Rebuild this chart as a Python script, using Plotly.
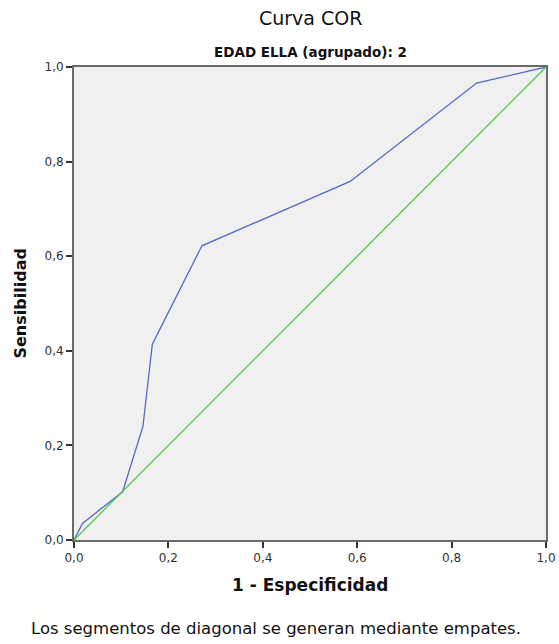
import plotly.graph_objects as go

fpr = [0.0, 0.018, 0.103, 0.146, 0.166, 0.271, 0.585, 0.853, 1.0]
tpr = [0.0, 0.035, 0.102, 0.240, 0.414, 0.622, 0.758, 0.966, 1.0]
ref_x = [0.0, 1.0]
ref_y = [0.0, 1.0]
tick_vals = [0.0, 0.2, 0.4, 0.6, 0.8, 1.0]
tick_text = ["0,0", "0,2", "0,4", "0,6", "0,8", "1,0"]

FONT = "DejaVu Sans"
W, H = 559, 644
L, R, T, B = 74, 13, 67, 104
ph = H - T - B

def py(p):
    return (H - B - p) / ph

fig = go.Figure()
fig.add_trace(go.Scatter(x=fpr, y=tpr, mode="lines",
                         line=dict(color="#5468c4", width=1.3), showlegend=False))
fig.add_trace(go.Scatter(x=ref_x, y=ref_y, mode="lines",
                         line=dict(color="#4cc94c", width=1.3), showlegend=False))

axis_common = dict(range=[0, 1], tickvals=tick_vals, ticktext=tick_text,
                   showgrid=False, zeroline=False, showline=True, mirror=True,
                   linecolor="#6a6a6a", linewidth=2, ticks="outside", ticklen=6,
                   tickwidth=2, tickcolor="#333333", automargin=False,
                   tickfont=dict(family=FONT, size=12, color="#333333"))

fig.update_layout(
    width=W, height=H,
    margin=dict(l=L, r=R, t=T, b=B, autoexpand=False),
    paper_bgcolor="white", plot_bgcolor="#f0f0f0",
    xaxis=axis_common, yaxis=axis_common,
    annotations=[
        dict(text="Curva COR", x=0.5, y=py(18), xref="paper", yref="paper",
             showarrow=False, font=dict(family=FONT, size=19, color="#111111"),
             xanchor="center", yanchor="middle"),
        dict(text="<b>EDAD ELLA (agrupado): 2</b>", x=0.5, y=py(52), xref="paper", yref="paper",
             showarrow=False, font=dict(family=FONT, size=13.5, color="#111111"),
             xanchor="center", yanchor="middle"),
        dict(text="<b>1 - Especificidad</b>", x=0.5, y=py(585), xref="paper", yref="paper",
             showarrow=False, font=dict(family=FONT, size=17, color="#111111"),
             xanchor="center", yanchor="middle"),
        dict(text="<b>Sensibilidad</b>", x=(20 - L) / (W - L - R), y=0.5,
             xref="paper", yref="paper", textangle=-90,
             showarrow=False, font=dict(family=FONT, size=16, color="#111111"),
             xanchor="center", yanchor="middle"),
        dict(text="Los segmentos de diagonal se generan mediante empates.",
             x=(276 - L) / (W - L - R), y=py(628), xref="paper", yref="paper",
             showarrow=False, font=dict(family=FONT, size=16.5, color="#111111"),
             xanchor="center", yanchor="middle"),
    ],
)

fig.write_html("out.html")
